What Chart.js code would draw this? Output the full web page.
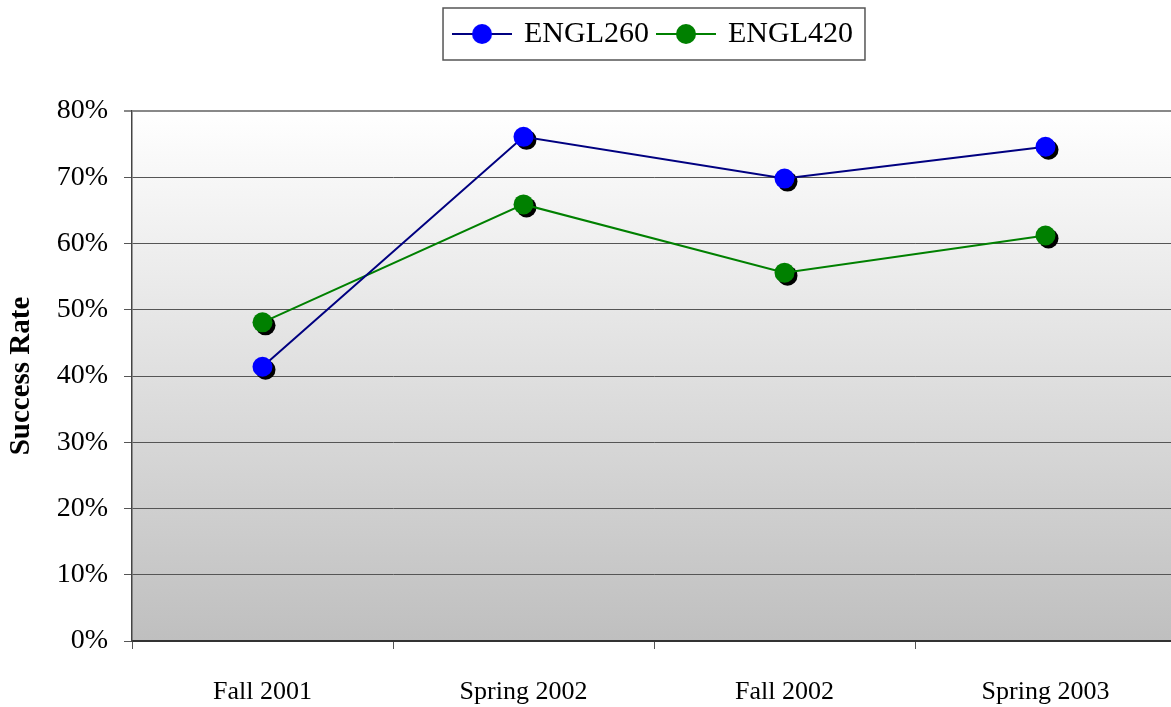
<!DOCTYPE html>
<html>
<head>
<meta charset="utf-8">
<title>Success Rate</title>
<script src="https://cdn.jsdelivr.net/npm/chart.js@4.4.0/dist/chart.umd.min.js"></script>
<style>
  html, body { margin: 0; padding: 0; overflow: hidden; background: #fff; }
  #rate { display: block; }
</style>
</head>
<body>
<canvas id="rate" width="1186" height="707"></canvas>
<script>
"use strict";

// data
const terms = ["Fall 2001", "Spring 2002", "Fall 2002", "Spring 2003"];
const engl260 = [41.4, 76.1, 69.8, 74.6];
const engl420 = [48.1, 65.9, 55.6, 61.2];
const seriesNames = ["ENGL260", "ENGL420"];
const lineColors = ["#000080", "#008000"];
const markerColors = ["#0000ff", "#008000"];

const serif = "'Liberation Serif', 'Times New Roman', serif";

// legend icon: short line with a dot on it
function legendIcon(lineColor, dotColor) {
  const c = document.createElement("canvas");
  c.width = 60;
  c.height = 22;
  const g = c.getContext("2d");
  g.strokeStyle = lineColor;
  g.lineWidth = 2;
  g.beginPath();
  g.moveTo(0, 11);
  g.lineTo(60, 11);
  g.stroke();
  g.fillStyle = dotColor;
  g.beginPath();
  g.arc(30, 11, 10, 0, Math.PI * 2);
  g.fill();
  return c;
}
const icons = [legendIcon(lineColors[0], markerColors[0]), legendIcon(lineColors[1], markerColors[1])];

const bgPlugin = {
  id: "bg",
  beforeDraw(chart) {
    const ctx = chart.ctx;
    const a = chart.chartArea;
    ctx.save();
    ctx.fillStyle = "#fff";
    ctx.fillRect(0, 0, chart.width, chart.height);
    const grad = ctx.createLinearGradient(0, a.top, 0, a.bottom);
    grad.addColorStop(0, "#ffffff");
    grad.addColorStop(1, "#bfbfbf");
    ctx.fillStyle = grad;
    ctx.fillRect(a.left, a.top, a.right - a.left, a.bottom - a.top);
    ctx.restore();
  },
};

// black drop shadow under each marker
const shadowPlugin = {
  id: "shadow",
  beforeDatasetDraw(chart, args) {
    const ctx = chart.ctx;
    ctx.save();
    ctx.fillStyle = "#000";
    args.meta.data.forEach((pt) => {
      ctx.beginPath();
      ctx.arc(pt.x + 3, pt.y + 3, 10, 0, Math.PI * 2);
      ctx.fill();
    });
    ctx.restore();
  },
};

// push plot area down below the legend, and frame the legend
const legendPlugin = {
  id: "legendBox",
  beforeInit(chart) {
    const fit = chart.legend.fit;
    chart.legend.fit = function () {
      fit.bind(chart.legend)();
      this.height += 52;
    };
  },
  afterDraw(chart) {
    const hb = chart.legend.legendHitBoxes;
    if (!hb || !hb.length) return;
    const last = hb[hb.length - 1];
    const left = hb[0].left - 12;
    const right = last.left + last.width + 12;
    const top = hb[0].top - 11;
    const bottom = hb[0].top + hb[0].height + 11;
    const ctx = chart.ctx;
    ctx.save();
    ctx.strokeStyle = "#555";
    ctx.lineWidth = 1.5;
    ctx.strokeRect(left, top, right - left, bottom - top);
    ctx.restore();
  },
};

new Chart(document.getElementById("rate"), {
  type: "line",
  data: {
    labels: terms,
    datasets: [
      {
        label: seriesNames[0],
        data: engl260,
        borderColor: lineColors[0],
        borderWidth: 2,
        pointRadius: 10,
        pointHoverRadius: 10,
        pointBorderWidth: 0,
        pointBackgroundColor: markerColors[0],
        tension: 0,
      },
      {
        label: seriesNames[1],
        data: engl420,
        borderColor: lineColors[1],
        borderWidth: 2,
        pointRadius: 10,
        pointHoverRadius: 10,
        pointBorderWidth: 0,
        pointBackgroundColor: markerColors[1],
        tension: 0,
      },
    ],
  },
  options: {
    responsive: false,
    animation: false,
    layout: { padding: { top: 9, left: 0, right: 0, bottom: 0 } },
    plugins: {
      tooltip: { enabled: false },
      legend: {
        position: "top",
        fullSize: false,
        labels: {
          usePointStyle: true,
          pointStyleWidth: 54,
          boxHeight: 22,
          padding: 10,
          color: "#000",
          font: { family: serif, size: 30 },
          generateLabels(chart) {
            const items = Chart.defaults.plugins.legend.labels.generateLabels(chart);
            items.forEach((it, i) => {
              it.pointStyle = icons[i];
            });
            return items;
          },
        },
      },
    },
    scales: {
      x: {
        offset: true,
        afterFit(scale) {
          scale.height = 66;
        },
        grid: {
          offset: true,
          drawOnChartArea: false,
          drawTicks: true,
          tickLength: 8,
          color: "#555",
        },
        border: { display: true, color: "#333", width: 2 },
        ticks: {
          color: "#000",
          padding: 28,
          font: { family: serif, size: 26 },
        },
      },
      y: {
        min: 0,
        max: 80,
        afterFit(scale) {
          scale.width = 132;
        },
        grid: {
          color: (ctx) => (ctx.tick && ctx.tick.value === 80 ? "#888" : "#555"),
          lineWidth: (ctx) => (ctx.tick && ctx.tick.value === 80 ? 2 : 1),
          tickLength: 8,
        },
        border: { display: true, color: "#444", width: 1.5 },
        ticks: {
          stepSize: 10,
          color: "#000",
          padding: 16,
          font: { family: serif, size: 28 },
          callback: (v) => v + "%",
        },
        title: {
          display: true,
          text: "Success Rate",
          color: "#000",
          padding: 4,
          font: { family: serif, size: 29, weight: "bold" },
        },
      },
    },
  },
  plugins: [bgPlugin, shadowPlugin, legendPlugin],
});
</script>
</body>
</html>
